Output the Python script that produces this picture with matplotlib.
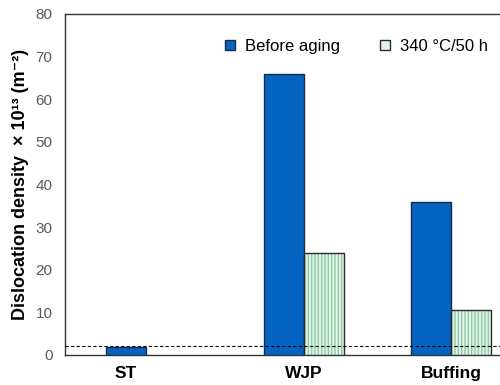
import numpy as np
import matplotlib
matplotlib.use('Agg')
import matplotlib.pyplot as plt
from matplotlib.lines import Line2D

plt.rcParams['font.family'] = ['Liberation Sans', 'DejaVu Sans']

categories = ['ST', 'WJP', 'Buffing']
before_aging = [1.8, 66, 36]
after_aging = [np.nan, 24, 10.6]   # ST has no aged bar
reference_level = 2.0

blue = '#0563C1'
green_face = '#e4f3ea'
green_hatch = '#8fcaa5'

fig = plt.figure(figsize=(5, 3.85), dpi=100)
ax = fig.add_axes([0.13, 0.078, 0.87, 0.8858])

centers = np.array([0.79, 2.0, 3.0])
w = 0.27
after = np.array(after_aging)
shift = np.where(np.isnan(after), 0.0, -w / 2)

ax.bar(centers + shift, before_aging, width=w, color=blue,
       edgecolor='#1c2a48', linewidth=1.0, zorder=3)

# hatched bars: pattern first, then the dark outline
ax.bar(centers + w / 2, after, width=w, color=green_face,
       edgecolor=green_hatch, hatch='|||||', linewidth=0, zorder=3)
ax.bar(centers + w / 2, after, width=w, fill=False,
       edgecolor='#2b2b2b', linewidth=1.0, zorder=4)

ax.axhline(reference_level, color='black', linestyle=(0, (3, 2)),
           linewidth=0.8, zorder=5)

ax.set_ylim(0, 80)
ax.set_xlim(0.374, 3.333)
ax.set_yticks(range(0, 81, 10))
ax.set_xticks(centers)
ax.set_xticklabels(categories, fontsize=12.5, fontweight='bold')
ax.tick_params(axis='y', length=0, pad=9, labelsize=11, labelcolor='#595959')
ax.tick_params(axis='x', length=0, pad=8)
for s in ['left', 'bottom', 'top']:
    ax.spines[s].set_linewidth(1.0)
    ax.spines[s].set_color('#333333')
ax.spines['right'].set_visible(False)

ax.set_ylabel('Dislocation density  \u00d7 10\u00b9\u00b3 (m\u207b\u00b2)',
              fontsize=13, fontweight='bold', labelpad=5)

handles = [
    Line2D([], [], marker='s', linestyle='none', markersize=7,
           markerfacecolor=blue, markeredgecolor='#1c2a48'),
    Line2D([], [], marker='s', linestyle='none', markersize=7,
           markerfacecolor=green_face, markeredgecolor='#2b2b2b'),
]
ax.legend(handles, ['Before aging', '340 \u00b0C/50 h'], ncol=2,
          frameon=False, fontsize=12, loc='upper left',
          bbox_to_anchor=(0.33, 0.97), handlelength=0.8,
          handletextpad=0.5, columnspacing=2.3)

fig.savefig('out.png', dpi=100)
